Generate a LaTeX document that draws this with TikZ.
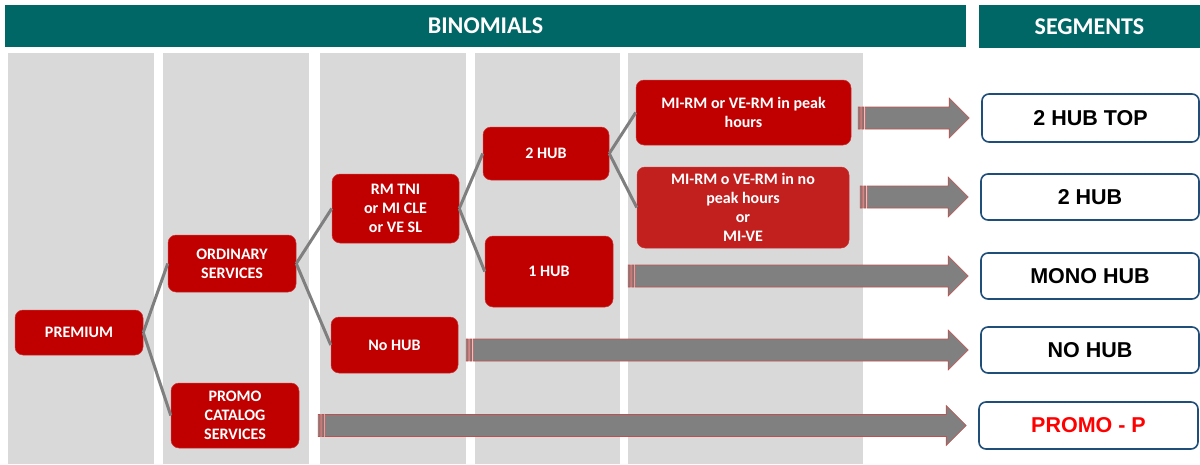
\documentclass[tikz,border=0pt]{standalone}
\usepackage{fontspec}
\setmainfont{Carlito}
\newfontfamily\segfont{Liberation Sans}
\usetikzlibrary{calc}
\definecolor{tealban}{HTML}{006666}
\definecolor{colgray}{HTML}{D9D9D9}
\definecolor{nodered}{HTML}{C00000}
\definecolor{nodered2}{HTML}{C21F1F}
\definecolor{linegray}{HTML}{7F7F7F}
\definecolor{arrgray}{HTML}{808080}
\definecolor{arredge}{HTML}{C0504D}
\definecolor{segblue}{HTML}{1F4E79}
\newcommand{\stripedarrow}[3]{%
  \path[arrowpart] let \p1=(#1.east), \p2=(#3.west) in
    (\x1+#2,\y2-11) rectangle (\x1+#2+2,\y2+11)
    (\x1+#2+3.5,\y2-11) rectangle (\x1+#2+5.5,\y2+11)
    (\x1+#2+7,\y2-11) -- (\x2-32,\y2-11) -- (\x2-32,\y2-20) -- (\x2-12,\y2)
    -- (\x2-32,\y2+20) -- (\x2-32,\y2+11) -- (\x1+#2+7,\y2+11) -- cycle;
}
\tikzset{
  banner/.style={fill=tealban, text=white, inner sep=0pt,
    font=\bfseries\fontsize{24}{27}\selectfont},
  rednode/.style={fill=nodered, draw=nodered!80!white, line width=0.5pt,
    rounded corners=8pt, text=white, align=center, inner sep=0pt,
    font=\bfseries\fontsize{16}{19}\selectfont},
  segnode/.style={fill=white, draw=segblue, line width=1.6pt,
    rounded corners=7pt, inner sep=0pt,
    font=\segfont\bfseries\fontsize{21.5}{24}\selectfont},
  conn/.style={draw=linegray, line width=3pt},
  arrowpart/.style={fill=arrgray, draw=arredge, line width=0.6pt},
  colbox/.style={fill=colgray}
}
\begin{document}
\begin{tikzpicture}[x=1pt,y=-1pt]
\useasboundingbox (0,0) rectangle (1200,464);
\fill[white] (0,0) rectangle (1200,464);
% banners
\node[banner, minimum width=961pt, minimum height=42pt] (bin) at (485.5,26) {BINOMIALS};
\node[banner, minimum width=221pt, minimum height=43pt] (seg) at (1089.5,26.5) {SEGMENTS};
% columns
\fill[colbox] (8,53) rectangle (154,464);
\fill[colbox] (163,53) rectangle (309,464);
\fill[colbox] (320,53) rectangle (466,464);
\fill[colbox] (475,53) rectangle (620,464);
\fill[colbox] (628,53) rectangle (863,464);
% nodes
\node[rednode, minimum width=128pt, minimum height=45pt] (premium) at (79,332.5) {PREMIUM};
\node[rednode, minimum width=128pt, minimum height=57pt] (ordinary) at (232,263.5) {ORDINARY\\SERVICES};
\node[rednode, minimum width=128pt, minimum height=65pt] (promo) at (235,415.5) {PROMO\\CATALOG\\SERVICES};
\node[rednode, minimum width=127pt, minimum height=69pt] (rmtni) at (395.5,208.5) {RM TNI\\or MI CLE\\or VE SL};
\node[rednode, minimum width=127pt, minimum height=56pt] (nohub) at (394.5,345) {No HUB};
\node[rednode, minimum width=126pt, minimum height=53pt] (twohub) at (546,153.5) {2 HUB};
\node[rednode, minimum width=128pt, minimum height=71pt] (onehub) at (549,271.5) {1 HUB};
\node[rednode, minimum width=215pt, minimum height=65pt] (peak) at (743.5,112.5) {MI-RM or VE-RM in peak\\hours};
\node[rednode, fill=nodered2, minimum width=212pt, minimum height=81pt] (nopeak) at (743,207.5) {MI-RM o VE-RM in no\\peak hours\\or\\MI-VE};
% segments
\node[segnode, minimum width=217pt, minimum height=48pt] (s1) at (1090.5,118) {2 HUB TOP};
\node[segnode, minimum width=218pt, minimum height=46pt] (s2) at (1090,197) {2 HUB};
\node[segnode, minimum width=218pt, minimum height=46pt] (s3) at (1090,276) {MONO HUB};
\node[segnode, minimum width=218pt, minimum height=46pt] (s4) at (1090,350) {NO HUB};
\node[segnode, minimum width=219pt, minimum height=47pt, text=red] (s5) at (1088.5,425.5) {PROMO - P};
% tree connectors
\draw[conn] (premium.east) -- (ordinary.west);
\draw[conn] (premium.east) -- (promo.west);
\draw[conn] (ordinary.east) -- (rmtni.west);
\draw[conn] (ordinary.east) -- (nohub.west);
\draw[conn] (rmtni.east) -- (twohub.west);
\draw[conn] (rmtni.east) -- (onehub.west);
\draw[conn] (twohub.east) -- (peak.west);
\draw[conn] (twohub.east) -- (nopeak.west);
% striped arrows
\stripedarrow{peak}{7}{s1}
\stripedarrow{nopeak}{11}{s2}
\stripedarrow{onehub}{15}{s3}
\stripedarrow{nohub}{8}{s4}
\stripedarrow{promo}{19}{s5}
\end{tikzpicture}
\end{document}
